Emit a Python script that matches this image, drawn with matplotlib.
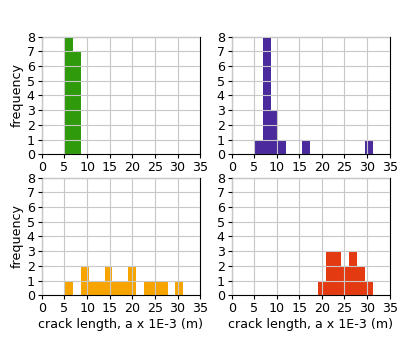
import numpy as np
import matplotlib
matplotlib.use("Agg")
from matplotlib import pyplot as plt

# shared bin edges for the crack length histograms (a x 1E-3 m)
edges = [5.16, 6.9, 8.64, 10.38, 12.12, 13.86, 15.6, 17.34, 19.08,
         20.82, 22.56, 24.3, 26.04, 27.78, 29.52, 31.26]

# counts per bin for each data set
counts_green = [12, 7, 0, 0, 0, 0, 0, 0, 0, 0, 0, 0, 0, 0, 0]
counts_purple = [1, 12, 3, 1, 0, 0, 1, 0, 0, 0, 0, 0, 0, 0, 1]
counts_orange = [1, 0, 2, 1, 1, 2, 1, 1, 2, 0, 1, 1, 1, 0, 1]
counts_red = [0, 0, 0, 0, 0, 0, 0, 0, 1, 3, 3, 2, 3, 2, 1]

colors = ["#2e9a0c", "#4a2a9c", "#f7a400", "#e43a12"]

plt.rcParams["font.size"] = 9.1

fig = plt.figure(figsize=(3.98, 3.41), dpi=100)
boxes = [[0.105, 0.5475, 0.398, 0.345],
         [0.582, 0.5475, 0.397, 0.345],
         [0.105, 0.134, 0.398, 0.345],
         [0.582, 0.134, 0.397, 0.345]]
series = [counts_green, counts_purple, counts_orange, counts_red]

centers = [(edges[i] + edges[i + 1]) / 2 for i in range(len(edges) - 1)]

for i in range(4):
    ax = fig.add_axes(boxes[i])
    ax.hist(centers, bins=edges, weights=series[i], color=colors[i])
    ax.set_xlim(0, 35)
    ax.set_ylim(0, 8)
    ax.set_xticks(np.arange(0, 36, 5))
    ax.set_yticks(np.arange(0, 9, 1))
    ax.set_axisbelow(False)
    ax.grid(True, color="#c8c8c8", linewidth=0.8)
    ax.tick_params(length=3, pad=2)
    if i % 2 == 0:
        ax.set_ylabel("frequency", labelpad=2)
    if i >= 2:
        ax.set_xlabel("crack length, a x 1E-3 (m)", labelpad=2)

fig.savefig("out.png", dpi=100)
